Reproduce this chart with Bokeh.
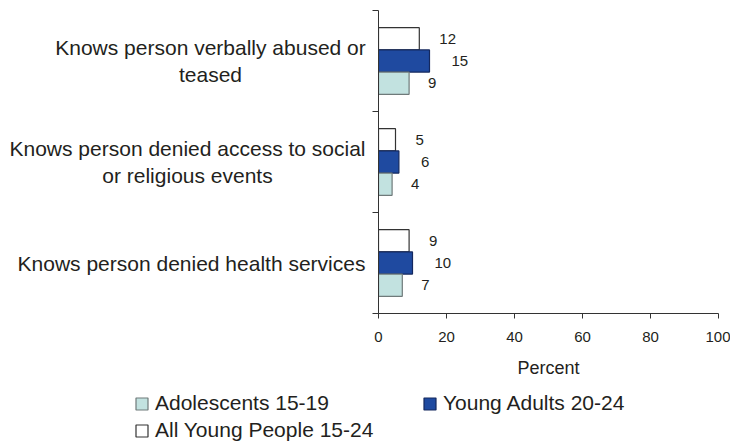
from bokeh.plotting import figure
from bokeh.layouts import column, row
from bokeh.models import (ColumnDataSource, Range1d, FixedTicker, Label, LabelSet,
                          Legend, LegendItem)
from bokeh.transform import dodge
from bokeh.core.properties import value
from bokeh.embed import file_html
from bokeh.resources import INLINE

# ---- data ----
categories = [
    "Knows person verbally abused or\nteased",
    "Knows person denied access to social\nor religious events",
    "Knows person denied health services",
]
all_young = [12, 5, 9]        # All Young People 15-24
young_adults = [15, 6, 10]    # Young Adults 20-24
adolescents = [9, 4, 7]       # Adolescents 15-19
series_names = ["Adolescents 15-19", "Young Adults 20-24", "All Young People 15-24"]
x_ticks = [0, 20, 40, 60, 80, 100]
x_label = "Percent"

# ---- styles ----
FONT = "Liberation Sans"
TXT = "#231f20"
TEAL, TEAL_LINE = "#c2e2e0", "#6f7a7a"
BLUE, BLUE_LINE = "#1f4aa0", "#14285e"
WHITE, WHITE_LINE = "#ffffff", "#333333"
BAR_H = 0.22
STYLE = {
    "all": dict(fill_color=WHITE, line_color=WHITE_LINE, line_width=1.2),
    "ya": dict(fill_color=BLUE, line_color=BLUE_LINE, line_width=1.2),
    "adol": dict(fill_color=TEAL, line_color=TEAL_LINE, line_width=1.2),
}
TOP, BOTTOM = 10, 67
LABEL_W = 366

n = len(categories)
cat_pos = [n - i - 0.5 for i in range(n)]  # top to bottom

src = ColumnDataSource(dict(
    y=cat_pos,
    all=all_young, ya=young_adults, adol=adolescents,
    all_t=[str(v) for v in all_young],
    ya_t=[str(v) for v in young_adults],
    adol_t=[str(v) for v in adolescents],
))
y_range = Range1d(0, n)

def bare(fig):
    fig.outline_line_color = None
    fig.xgrid.visible = False
    fig.ygrid.visible = False
    fig.background_fill_color = None
    fig.border_fill_color = "white"

# ---- category label strip (shares the y scale) ----
lab = figure(width=LABEL_W, height=380, x_range=Range1d(0, LABEL_W), y_range=y_range,
             output_backend="svg", toolbar_location=None,
             x_axis_location=None, y_axis_location=None,
             min_border_left=0, min_border_right=0, min_border_top=TOP, min_border_bottom=BOTTOM)
bare(lab)
label_x = [210, 187, 191]
for cat, yv, lx in zip(categories, cat_pos, label_x):
    lab.add_layout(Label(x=lx, y=yv, text=cat,
                         text_align="center", text_baseline="middle",
                         text_font=FONT, text_font_size="21px", text_color=TXT,
                         text_line_height=1.2))

# ---- bar chart ----
p = figure(width=730 - LABEL_W, height=380, x_range=Range1d(0, 100), y_range=y_range,
           output_backend="svg", toolbar_location=None,
           min_border_left=12, min_border_right=12, min_border_top=TOP, min_border_bottom=BOTTOM)
bare(p)

p.hbar(y=dodge("y", BAR_H), left=0, right="all", height=BAR_H, source=src, **STYLE["all"])
p.hbar(y="y", left=0, right="ya", height=BAR_H, source=src, **STYLE["ya"])
p.hbar(y=dodge("y", -BAR_H), left=0, right="adol", height=BAR_H, source=src, **STYLE["adol"])

for col, txt, dy, off in [("all", "all_t", BAR_H, 20), ("ya", "ya_t", 0, 22), ("adol", "adol_t", -BAR_H, 19)]:
    p.add_layout(LabelSet(x=col, y=dodge("y", dy), text=txt, source=src, x_offset=off,
                          text_align="left", text_baseline="middle",
                          text_font=value(FONT), text_font_size="15px", text_color=TXT))

xa = p.xaxis[0]
xa.ticker = FixedTicker(ticks=x_ticks)
xa.major_tick_out = 5
xa.major_tick_in = 0
xa.minor_tick_out = 0
xa.minor_tick_in = 0
xa.axis_line_color = "#333333"
xa.major_tick_line_color = "#333333"
xa.major_label_text_font = FONT
xa.major_label_text_font_size = "15px"
xa.major_label_text_color = TXT
xa.major_label_standoff = 13
xa.axis_label = x_label
xa.axis_label_text_font = FONT
xa.axis_label_text_font_size = "18px"
xa.axis_label_text_font_style = "normal"
xa.axis_label_text_color = TXT
xa.axis_label_standoff = 13

ya = p.yaxis[0]
ya.ticker = FixedTicker(ticks=list(range(n + 1)))
ya.major_label_overrides = {i: "" for i in range(n + 1)}
ya.major_label_text_font_size = "1px"
ya.major_label_standoff = 0
ya.major_tick_out = 6
ya.major_tick_in = 0
ya.minor_tick_out = 0
ya.minor_tick_in = 0
ya.axis_line_color = "#333333"
ya.major_tick_line_color = "#333333"

# ---- legend strip: zero-size proxy glyphs carry each series' style ----
lg = figure(width=730, height=64, x_range=Range1d(0, 1), y_range=Range1d(0, 1),
            output_backend="svg", toolbar_location=None,
            x_axis_location=None, y_axis_location=None,
            min_border_left=0, min_border_right=0, min_border_top=0, min_border_bottom=0)
bare(lg)
proxy = ColumnDataSource(dict(y=[0.5], x=[0.5]))
g_adol = lg.hbar(y="y", left="x", right="x", height=0, source=proxy, **STYLE["adol"])
g_ya = lg.hbar(y="y", left="x", right="x", height=0, source=proxy, **STYLE["ya"])
g_all = lg.hbar(y="y", left="x", right="x", height=0, source=proxy, **STYLE["all"])

legend = Legend(
    items=[LegendItem(label=series_names[0], renderers=[g_adol]),
           LegendItem(label=series_names[1], renderers=[g_ya]),
           LegendItem(label=series_names[2], renderers=[g_all])],
    location=(134, 2), orientation="horizontal", ncols=2,
    glyph_width=15, glyph_height=15, label_standoff=6, spacing=3,
    label_width=264, padding=0, margin=0,
    border_line_color=None, background_fill_alpha=0,
    label_text_font=FONT, label_text_font_size="21px", label_text_color=TXT,
)
lg.add_layout(legend, "center")

layout = column(row(lab, p, spacing=0), lg, spacing=0)
open("out.html", "w").write(file_html(layout, INLINE))
